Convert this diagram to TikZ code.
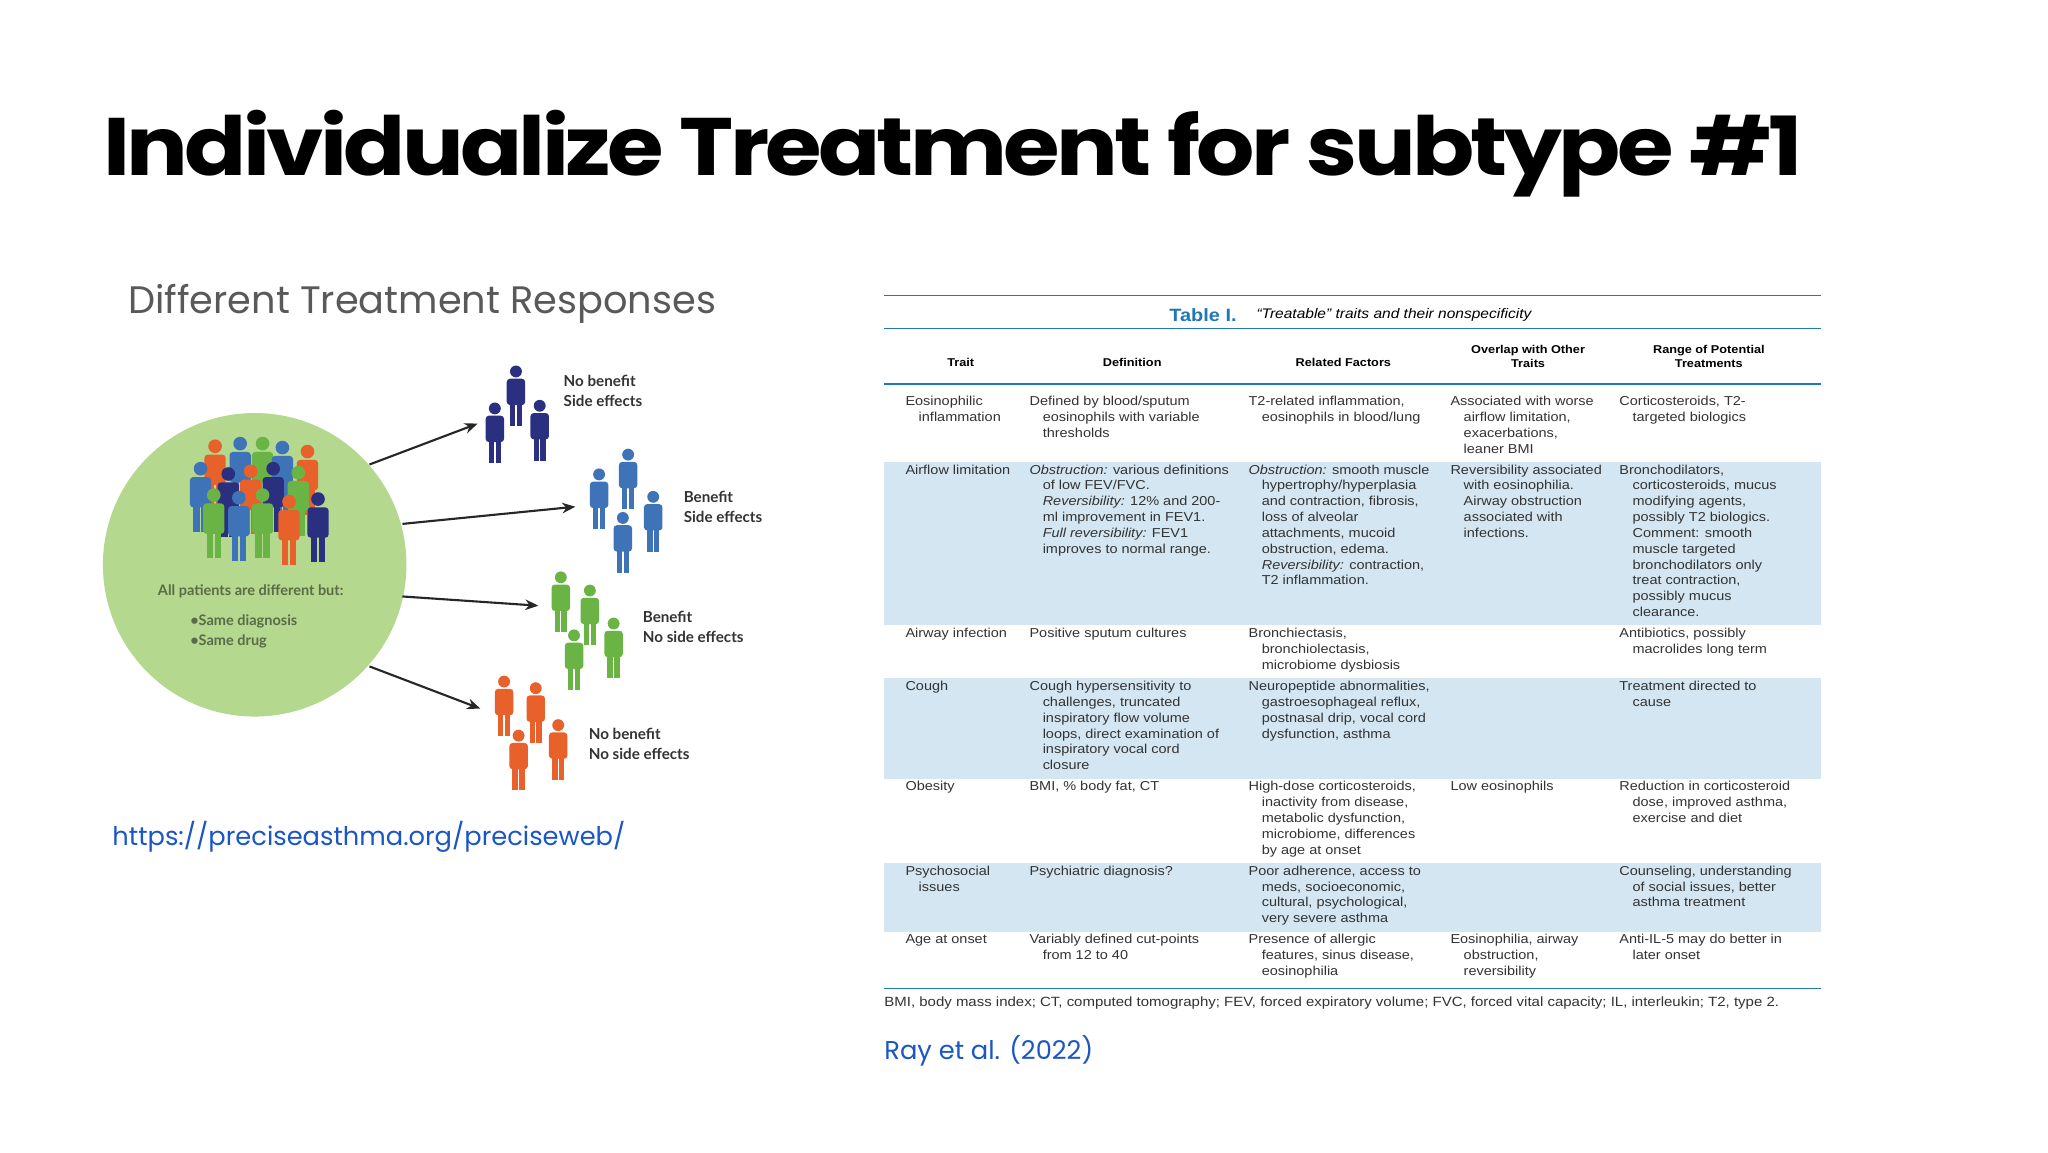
\documentclass[tikz,border=0pt]{standalone}
\usepackage{fontspec}
\usepackage{graphicx}
\setmainfont[FakeStretch=1.12]{Liberation Sans}
\newfontfamily\pop{Poppins}
\newfontfamily\popt[LetterSpace=-4]{Poppins}
\newfontfamily\lat{Lato}
\usetikzlibrary{arrows.meta}
\definecolor{navyc}{HTML}{2B2F7F}
\definecolor{bluec}{HTML}{3F73B8}
\definecolor{greenc}{HTML}{6AB445}
\definecolor{orangec}{HTML}{E8602A}
\definecolor{circc}{HTML}{B3D88E}
\definecolor{rowc}{HTML}{D3E6F2}
\definecolor{tblue}{HTML}{1F78B4}
\definecolor{linkc}{HTML}{1A56C4}
\definecolor{txt}{HTML}{333333}
\tikzset{
 person/.pic={\fill (0,4.5) circle (4.5);
   \fill[rounded corners=2.5] (-7,10) rectangle (7,30);
   \fill (-4.7,27) rectangle (-0.5,46); \fill (0.5,27) rectangle (4.7,46);},
 cellst/.style={anchor=north west,inner sep=0,align=left,text=txt,font=\fontsize{9.8}{12}\selectfont},
 hd/.style={inner sep=0,align=center,text=black,font=\bfseries\fontsize{8.6}{10.5}\selectfont},
 lbl/.style={anchor=north west,inner sep=0,align=left,text=txt,font=\lat\bfseries\fontsize{11.5}{15}\selectfont},
 arr/.style={-{Stealth[length=10pt,width=8pt]},line width=1.6pt,black!85},
 tline/.style={tblue,line width=1.1pt}
}
\newcommand{\ind}{\hspace*{10pt}}
\begin{document}
\begin{tikzpicture}[x=1pt,y=-1pt]
\useasboundingbox (0,0) rectangle (1552,873);
\fill[white] (0,0) rectangle (1552,873);
% title
\node[anchor=base west,inner sep=0] (title) at (78,133) {\scalebox{1}[0.89]{\resizebox{1288pt}{!}{\popt\bfseries Individualize Treatment for subtype \#1}}};
\node[anchor=south west,inner sep=0,text=black!65,font=\pop\fontsize{29}{34}\selectfont] (sub) at (97,245) {Different Treatment Responses};
% circle
\fill[circc] (193,428) ellipse (115 and 115);
\node[inner sep=0,text=black!50!circc,font=\lat\bfseries\fontsize{11}{14}\selectfont] (allp) at (190,448) {All patients are different but:};
\node[anchor=north west,inner sep=0,align=left,text=black!50!circc,font=\lat\bfseries\fontsize{11}{15}\selectfont] (same) at (144,466) {•Same diagnosis\\•Same drug};
% crowd
\foreach \x/\y/\c in {163/333/orangec,182/331/bluec,199/331/greenc,214/334/bluec,233/337/orangec,
 152/350/bluec,173/354/navyc,190/352/orangec,207/350/navyc,226/353/greenc,
 162/370/greenc,181/372/bluec,199/370/greenc,219/375/orangec,241/373/navyc}
 \pic[color=\c,scale=1.15] at (\x,\y) {person};
% groups
\foreach \x/\y in {391/277,375/305,409/303} \pic[color=navyc] at (\x,\y) {person};
\foreach \x/\y in {476/340,454/355,495/372,472/388} \pic[color=bluec] at (\x,\y) {person};
\foreach \x/\y in {425/433,447/443,465/468,435/477} \pic[color=greenc] at (\x,\y) {person};
\foreach \x/\y in {382/512,406/517,423/545,393/553} \pic[color=orangec] at (\x,\y) {person};
\coordinate (a1s) at (280,352); \coordinate (a1e) at (362,321);
\coordinate (a2s) at (305,397); \coordinate (a2e) at (436,384);
\coordinate (a3s) at (305,452); \coordinate (a3e) at (408,459);
\coordinate (a4s) at (280,505); \coordinate (a4e) at (364,537);
\draw[arr] (a1s)--(a1e); \draw[arr] (a2s)--(a2e); \draw[arr] (a3s)--(a3e); \draw[arr] (a4s)--(a4e);
\node[lbl] (l1) at (427,284) {No benefit\\Side effects};
\node[lbl] (l2) at (518,372) {Benefit\\Side effects};
\node[lbl] (l3) at (487,463) {Benefit\\No side effects};
\node[lbl] (l4) at (446,552) {No benefit\\No side effects};
\node[anchor=south west,inner sep=0,text=linkc,font=\pop\fontsize{19.5}{22}\selectfont] (url) at (85,646) {https://preciseasthma.org/preciseweb/};
% table rows
\fill[rowc] (670,350) rectangle (1380,474);
\fill[rowc] (670,514) rectangle (1380,590);
\fill[rowc] (670,654) rectangle (1380,706);
\draw[tline] (670,224)--(1380,224);
\draw[tline] (670,249)--(1380,249);
\draw[tline] (670,291)--(1380,291);
\draw[tline] (670,749)--(1380,749);
\node[anchor=west,inner sep=0,text=tblue,font=\bfseries\fontsize{13.5}{15}\selectfont] (tcap) at (886,238.5) {Table I.};
\node[anchor=west,inner sep=0,font=\itshape\fontsize{10.5}{12}\selectfont] (tcap2) at (952,239) {“Treatable” traits and their nonspecificity};
\node[hd] (h1) at (728,275) {Trait};
\node[hd] (h2) at (858,275) {Definition};
\node[hd] (h3) at (1018,275) {Related Factors};
\node[hd] (h4) at (1158,270) {Overlap with Other\\Traits};
\node[hd] (h5) at (1295,270) {Range of Potential\\Treatments};
% row 1
\node[cellst] (c11) at (686,300) {Eosinophilic\\\ind inflammation};
\node[cellst] (c12) at (780,300) {Defined by blood/sputum\\\ind eosinophils with variable\\\ind thresholds};
\node[cellst] (c13) at (946,300) {T2-related inflammation,\\\ind eosinophils in blood/lung};
\node[cellst] (c14) at (1099,300) {Associated with worse\\\ind airflow limitation,\\\ind exacerbations,\\\ind leaner BMI};
\node[cellst] (c15) at (1227,300) {Corticosteroids, T2-\\\ind targeted biologics};
% row 2
\node[cellst] (c21) at (686,352) {Airflow limitation};
\node[cellst] (c22) at (780,352) {\textit{Obstruction:} various definitions\\\ind of low FEV/FVC.\\\ind \textit{Reversibility:} 12\% and 200-\\\ind ml improvement in FEV1.\\\ind \textit{Full reversibility:} FEV1\\\ind improves to normal range.};
\node[cellst] (c23) at (946,352) {\textit{Obstruction:} smooth muscle\\\ind hypertrophy/hyperplasia\\\ind and contraction, fibrosis,\\\ind loss of alveolar\\\ind attachments, mucoid\\\ind obstruction, edema.\\\ind \textit{Reversibility:} contraction,\\\ind T2 inflammation.};
\node[cellst] (c24) at (1099,352) {Reversibility associated\\\ind with eosinophilia.\\\ind Airway obstruction\\\ind associated with\\\ind infections.};
\node[cellst] (c25) at (1227,352) {Bronchodilators,\\\ind corticosteroids, mucus\\\ind modifying agents,\\\ind possibly T2 biologics.\\\ind Comment: smooth\\\ind muscle targeted\\\ind bronchodilators only\\\ind treat contraction,\\\ind possibly mucus\\\ind clearance.};
% row 3
\node[cellst] (c31) at (686,476) {Airway infection};
\node[cellst] (c32) at (780,476) {Positive sputum cultures};
\node[cellst] (c33) at (946,476) {Bronchiectasis,\\\ind bronchiolectasis,\\\ind microbiome dysbiosis};
\node[cellst] (c35) at (1227,476) {Antibiotics, possibly\\\ind macrolides long term};
% row 4
\node[cellst] (c41) at (686,516) {Cough};
\node[cellst] (c42) at (780,516) {Cough hypersensitivity to\\\ind challenges, truncated\\\ind inspiratory flow volume\\\ind loops, direct examination of\\\ind inspiratory vocal cord\\\ind closure};
\node[cellst] (c43) at (946,516) {Neuropeptide abnormalities,\\\ind gastroesophageal reflux,\\\ind postnasal drip, vocal cord\\\ind dysfunction, asthma};
\node[cellst] (c45) at (1227,516) {Treatment directed to\\\ind cause};
% row 5
\node[cellst] (c51) at (686,592) {Obesity};
\node[cellst] (c52) at (780,592) {BMI, \% body fat, CT};
\node[cellst] (c53) at (946,592) {High-dose corticosteroids,\\\ind inactivity from disease,\\\ind metabolic dysfunction,\\\ind microbiome, differences\\\ind by age at onset};
\node[cellst] (c54) at (1099,592) {Low eosinophils};
\node[cellst] (c55) at (1227,592) {Reduction in corticosteroid\\\ind dose, improved asthma,\\\ind exercise and diet};
% row 6
\node[cellst] (c61) at (686,656) {Psychosocial\\\ind issues};
\node[cellst] (c62) at (780,656) {Psychiatric diagnosis?};
\node[cellst] (c63) at (946,656) {Poor adherence, access to\\\ind meds, socioeconomic,\\\ind cultural, psychological,\\\ind very severe asthma};
\node[cellst] (c65) at (1227,656) {Counseling, understanding\\\ind of social issues, better\\\ind asthma treatment};
% row 7
\node[cellst] (c71) at (686,708) {Age at onset};
\node[cellst] (c72) at (780,708) {Variably defined cut-points\\\ind from 12 to 40};
\node[cellst] (c73) at (946,708) {Presence of allergic\\\ind features, sinus disease,\\\ind eosinophilia};
\node[cellst] (c74) at (1099,708) {Eosinophilia, airway\\\ind obstruction,\\\ind reversibility};
\node[cellst] (c75) at (1227,708) {Anti-IL-5 may do better in\\\ind later onset};
\node[anchor=west,inner sep=0,text=txt] (foot) at (670,760) {\resizebox{678pt}{!}{\fontsize{8.6}{10}\selectfont BMI, body mass index; CT, computed tomography; FEV, forced expiratory volume; FVC, forced vital capacity; IL, interleukin; T2, type 2.}};
\node[anchor=south west,inner sep=0,text=linkc,font=\pop\fontsize{19.5}{22}\selectfont] (ray) at (670,808) {Ray et al. (2022)};
\end{tikzpicture}
\end{document}
